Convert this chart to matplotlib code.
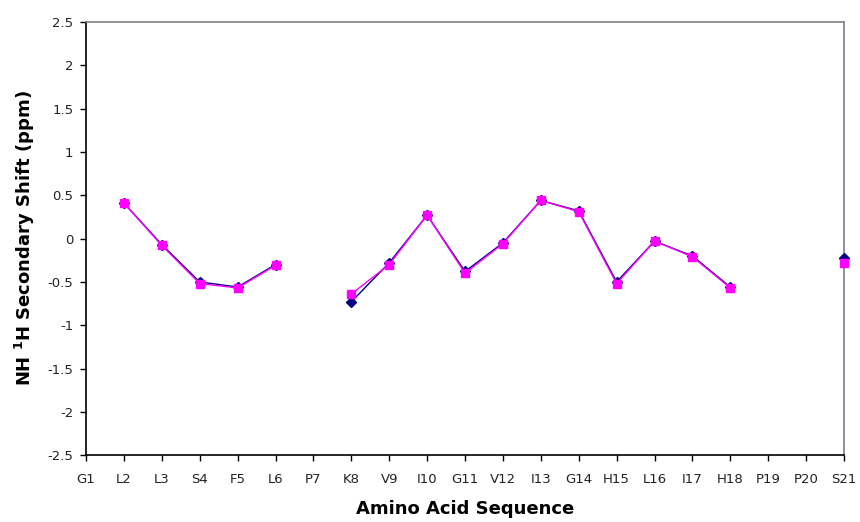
import matplotlib

matplotlib.use("Agg")
import matplotlib.pyplot as plt
import numpy as np

residues = ["G1", "L2", "L3", "S4", "F5", "L6", "P7", "K8", "V9", "I10", "G11",
            "V12", "I13", "G14", "H15", "L16", "I17", "H18", "P19", "P20", "S21"]

# NaN = no value (gap in line)
series_a = [np.nan, 0.41, -0.07, -0.50, -0.56, -0.30, np.nan, -0.73, -0.28, 0.27, -0.38,
            -0.05, 0.44, 0.32, -0.50, -0.03, -0.20, -0.56, np.nan, np.nan, -0.23]
series_b = [np.nan, 0.41, -0.08, -0.52, -0.57, -0.31, np.nan, -0.64, -0.30, 0.27, -0.40,
            -0.06, 0.44, 0.31, -0.52, -0.03, -0.21, -0.57, np.nan, np.nan, -0.28]

x = np.arange(len(residues))

fig = plt.figure(figsize=(8.6, 5.22), dpi=100)
ax = fig.add_axes([0.1, 0.128, 0.8814, 0.83])

ax.plot(x, series_a, color="#000080", linewidth=1.0, marker="D", markersize=5,
        markerfacecolor="#000080", markeredgecolor="#000080", zorder=3, clip_on=False)
ax.plot(x, series_b, color="#FF00FF", linewidth=1.0, marker="s", markersize=6,
        markerfacecolor="#FF00FF", markeredgecolor="#FF00FF", zorder=4, clip_on=False)

ax.set_xlim(0, len(residues) - 1)
ax.set_ylim(-2.5, 2.5)
ax.set_xticks(x)
ax.set_xticklabels(residues)
ax.set_yticks(np.arange(-2.5, 2.51, 0.5))
ax.set_yticklabels(["-2.5", "-2", "-1.5", "-1", "-0.5", "0", "0.5", "1", "1.5", "2", "2.5"])

ax.tick_params(axis="both", labelsize=9.5, direction="out", length=4, width=1,
               colors="black", labelcolor="#222222")
ax.tick_params(axis="x", pad=9)
ax.tick_params(axis="y", pad=5)

for side in ["left", "bottom"]:
    ax.spines[side].set_color("black")
    ax.spines[side].set_linewidth(1.2)
for side in ["top", "right"]:
    ax.spines[side].set_color("#808080")
    ax.spines[side].set_linewidth(1.2)

ax.set_xlabel("Amino Acid Sequence", fontsize=13, fontweight="bold", labelpad=10)
ax.set_ylabel("NH $^{\\mathbf{1}}$H Secondary Shift (ppm)", fontsize=13, fontweight="bold", labelpad=8)

plt.savefig("out.png", dpi=100)
